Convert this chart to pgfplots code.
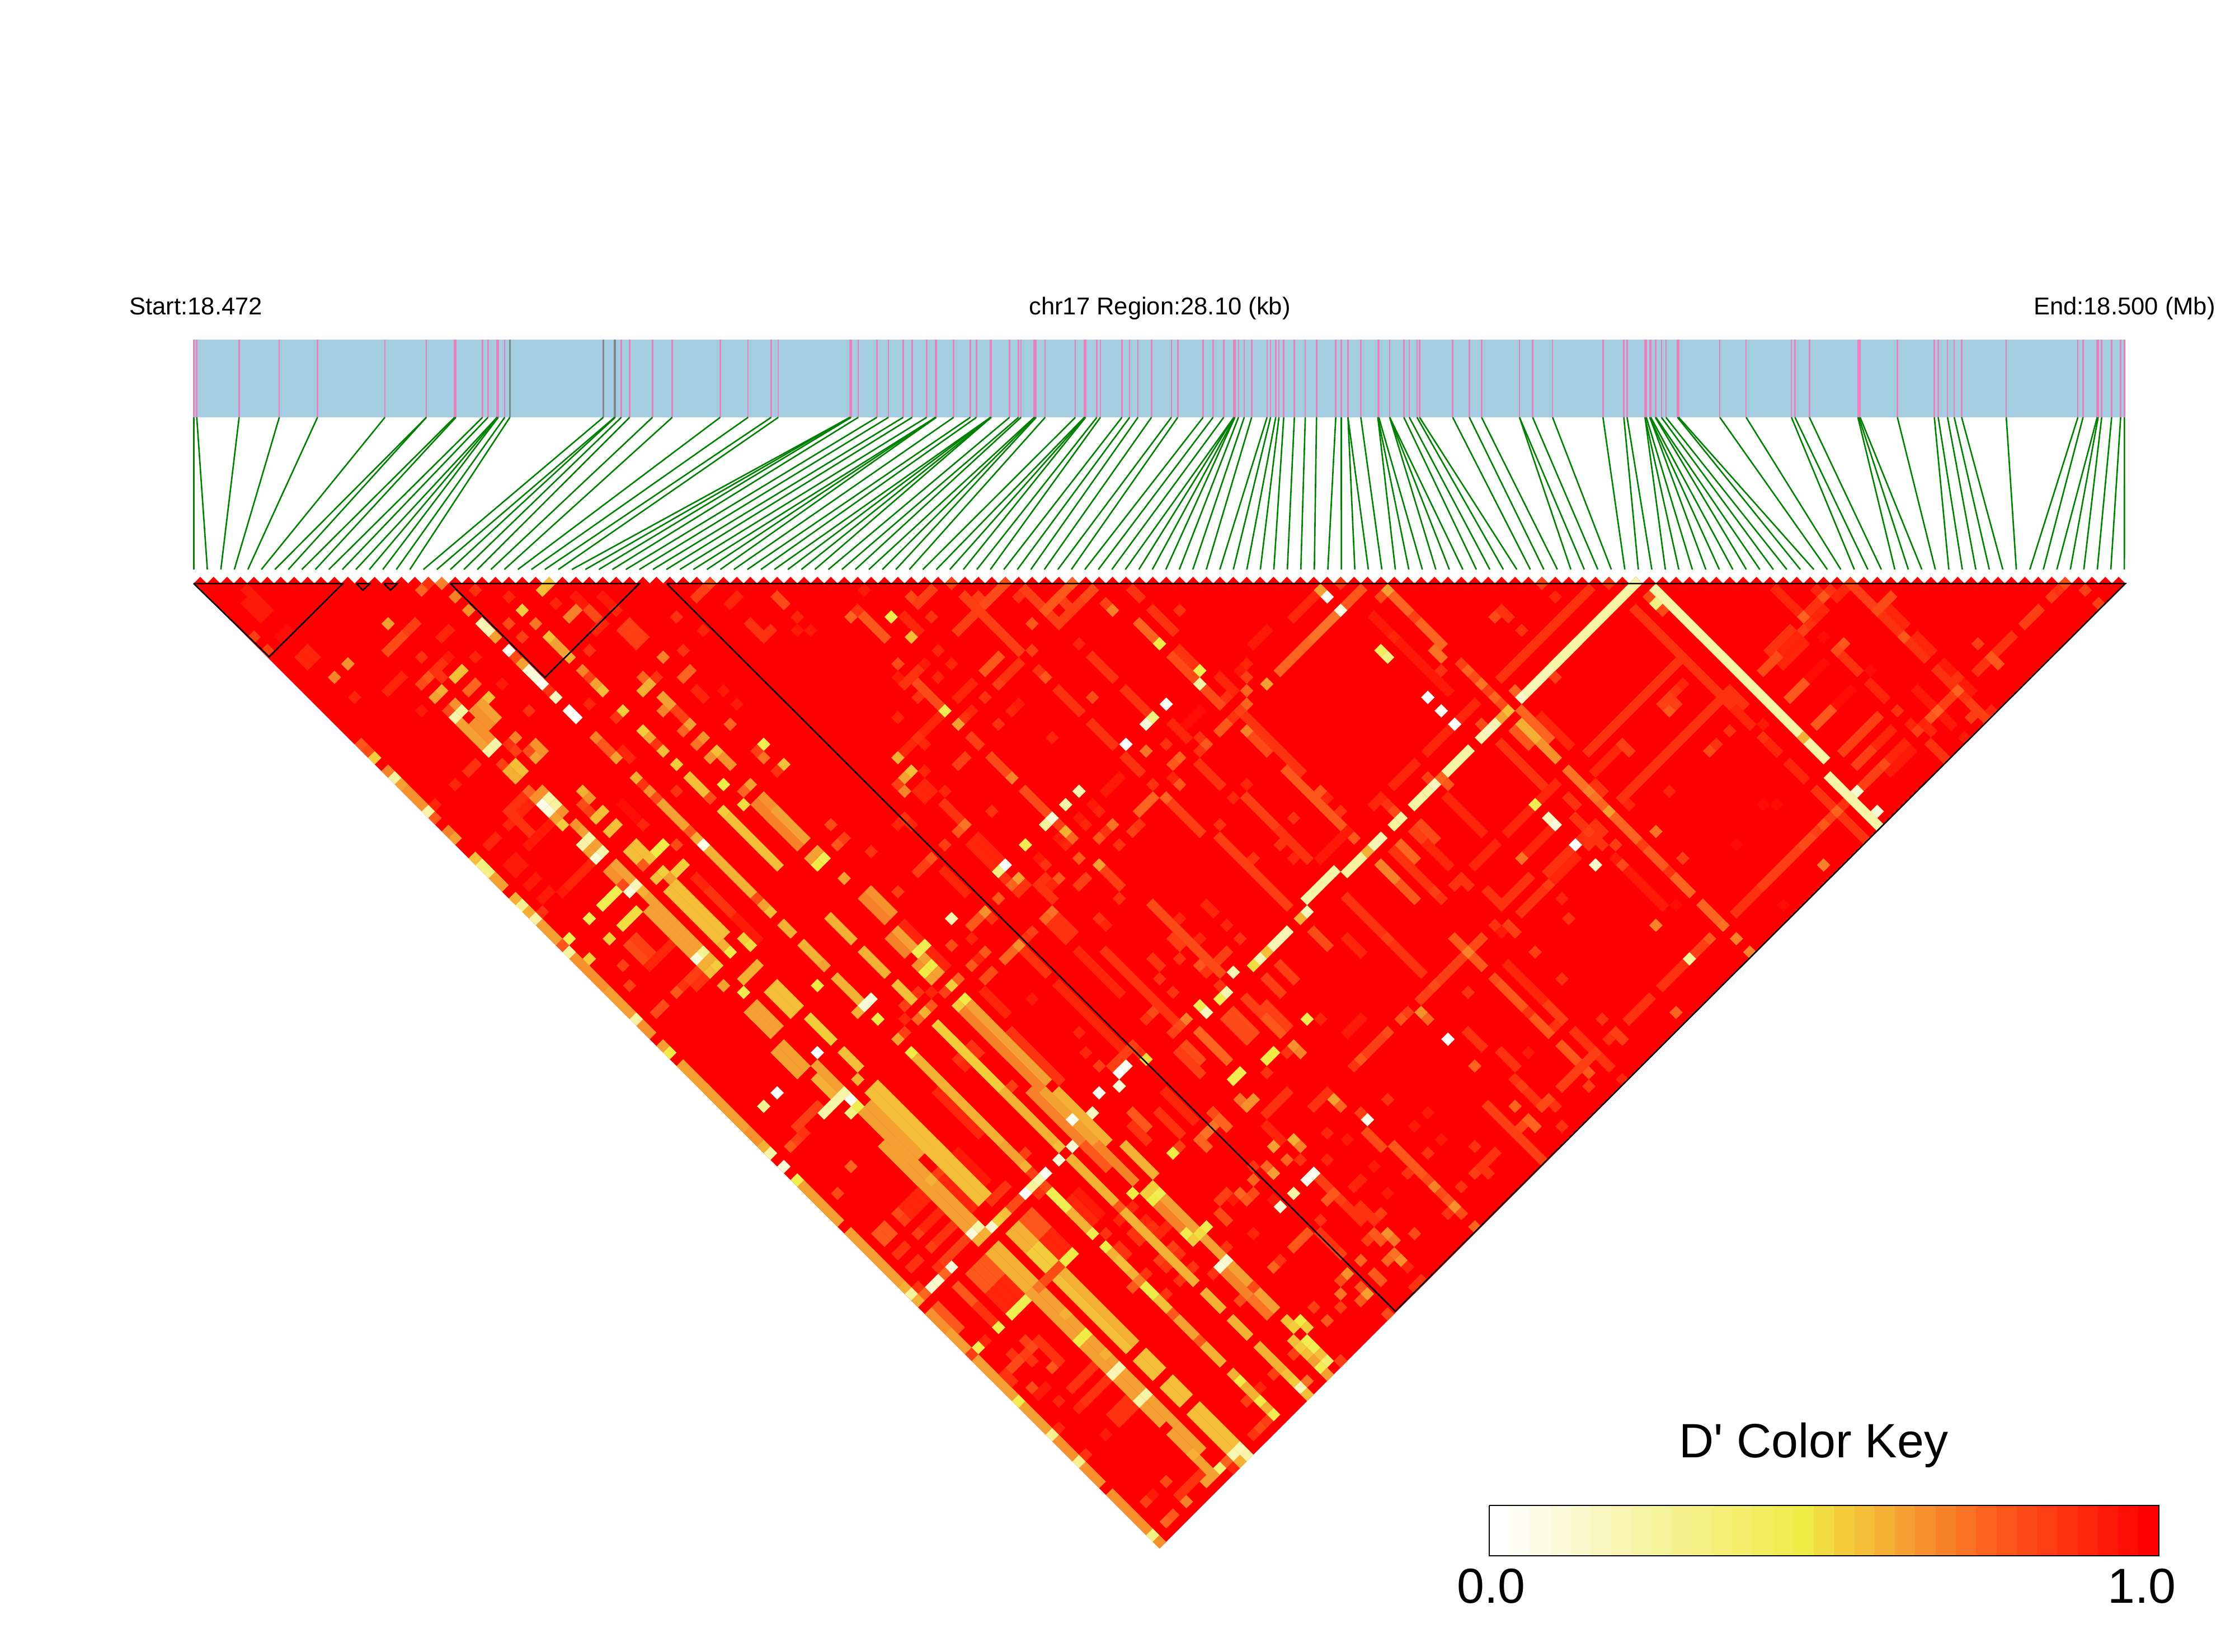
\documentclass[border=0pt]{standalone}
\usepackage{pgfplots}
\usepackage{pgfplotstable}
\usepackage{fontspec}
\setmainfont{Liberation Sans}
\pgfplotsset{compat=1.18}

\definecolor{snpblue}{RGB}{166,206,227}
\definecolor{snppink}{RGB}{231,130,190}
\definecolor{snpgray}{RGB}{125,135,140}
\definecolor{snpgreen}{RGB}{0,128,0}

% SNP: position on the bar (px), index along the triangle
\pgfplotstableread[row sep=\\]{
t i\\
346.5 0\\351.7 1\\427.4 2\\499.2 3\\567.5 4\\688 5\\762.1 6\\762.1 7\\812.6 8\\814.9 9\\862.6 10\\872.3 11\\888.4 12\\889.5 13\\890.7 14\\902.2 15\\911.4 16\\1078.4 17\\1098.5 18\\1099.7 19\\1110.6 20\\1125.5 21\\1166.3 22\\
1201.7 23\\1287.3 24\\1337.2 25\\1378.5 26\\1391.2 27\\1519.2 28\\1519.2 29\\1521.5 30\\1534.1 31\\1567.4 32\\1588.1 33\\1614.5 34\\1630.5 35\\1656.4 36\\1672.4 37\\1672.4 38\\1673.6 39\\1704.6 40\\1734.4 41\\1745.4 42\\1770.6 43\\1770.6 44\\1771.8 45\\1771.8 46\\1804.5 47\\1820.6 48\\1825.1 49\\1848.7 50\\1850.4 51\\1852.1 52\\1868.2 53\\1922.2 54\\1938.2 55\\1939.4 56\\1940.5 57\\1960.6 58\\1966.9 59\\2005.4 60\\2019.2 61\\2034.1 62\\2058.2 63\\2093.8 64\\
2105.2 65\\2150.5 66\\2168.3 67\\2187.3 68\\2205.6 69\\2205.6 70\\2207.3 71\\2207.3 72\\2213.7 73\\2224 74\\2237.2 75\\2264.8 76\\2271.1 77\\2280.3 78\\2286 79\\2294.6 80\\2313.6 81\\2333.1 82\\2353.2 83\\2387.6 84\\2397.4 85\\2409.4 86\\2409.4 87\\2432.4 88\\2462.8 89\\2462.8 90\\2464.5 91\\2484 92\\2484 93\\2484 94\\2509.3 95\\2519.1 96\\2532.8 97\\2537.4 98\\2596.6 99\\2626.4 100\\2648.2 101\\2716 102\\2716 103\\2739.5 104\\2775.1 105\\2865.2 106\\2902.5 107\\2908.3 108\\2940.4 109\\2940.4 110\\2942.7 111\\2949 112\\2949 113\\2950.7 114\\2958.8 115\\2959.9 116\\2969.7 117\\2977.7 118\\2998.4 119\\
3000.6 120\\3074.1 121\\3121.1 122\\3202.1 123\\3208.4 124\\3234.2 125\\3320.9 126\\3322.6 127\\3324.9 128\\3391.5 129\\3457.5 130\\3464.4 131\\3481.1 132\\3493.1 133\\3506.3 134\\3586.1 135\\3714.1 136\\3723.3 137\\3748.6 138\\3750.3 139\\3756.6 140\\3774.4 141\\3790.5 142\\3797.3 143\\
}\snps

% Cells are read crop by crop: x y of the cell centre in crop pixels, c = step on the 33-step key (32 = red)
% top-left area
\pgfplotstableread[row sep=\\]{
x1 y1 x2 y2 c\\
272 1269 314 1323 30\\251 1296 293 1350 30\\375 1405 355 1432 31\\440 1486 461 1512 29\\419 1512 440 1539 29\\776 1377 755 1405 27\\713 1459 692 1486 27\\880 1405 860 1432 29\\880 1513 860 1540 30\\1218 1457 1240 1485 20\\1260 1270 1290 1296 30\\1280 1323 1260 1350 22\\1323 1323 1345 1350 26\\1365 1270 1385 1296 30\\1340 1380 1320 1405 29\\1450 1377 1500 1430 27\\1405 1405 1440 1460 27\\
}\Abands
\pgfplotstableread[row sep=\\]{
x y c\\
817 1216 28\\859 1216 22\\1197 1216 18\\797 1240 24\\901 1270 22\\943 1323 21\\987 1377 6\\1007 1405 6\\1027 1432 20\\1068 1486 5\\1110 1540 20\\1132 1565 2\\965 1243 28\\1175 1243 18\\1070 1270 29\\1218 1296 29\\1112 1323 17\\1070 1377 26\\1155 1377 23\\1112 1431 27\\1197 1431 18\\1260 1513 19\\1408 1323 29\\250 1240 30\\272 1430 27\\314 1484 27\\566 1540 20\\692 1377 20\\734 1432 26\\797 1512 30\\960 1513 31\\922 1567 18\\
}\Asingles

% top-middle
\pgfplotstableread[row sep=\\]{
x1 y1 x2 y2 c\\
113 1243 92 1270 27\\340 1270 362 1296 26\\825 1243 783 1296 27\\215 1270 196 1296 29\\1085 1243 1205 1377 27\\930 1270 1100 1480 27\\1035 1243 995 1296 26\\1240 1243 1190 1323 25\\1330 1243 1310 1270 26\\1290 1296 1240 1360 27\\1420 1243 1440 1270 28\\1480 1320 1540 1400 28\\595 1350 650 1430 25\\740 1350 780 1400 29\\260 1377 290 1430 28\\950 1350 930 1377 27\\1440 1377 1500 1460 24\\
}\Bbands
\pgfplotstableread[row sep=\\]{
x y c\\
135 1216 26\\1057 1216 26\\1268 1216 24\\615 1243 30\\763 1270 26\\888 1225 27\\1098 1270 28\\975 1270 27\\1247 1296 27\\1372 1296 27\\1392 1323 22\\573 1350 24\\595 1323 28\\700 1350 14\\827 1350 28\\405 1350 29\\320 1405 28\\405 1405 30\\447 1405 30\\115 1405 29\\25 1350 28\\1140 1377 25\\910 1405 27\\763 1432 18\\
}\Bsingles

% top-right, above the first big crop
\pgfplotstableread[row sep=\\]{
x1 y1 x2 y2 c\\
415 1270 350 1350 29\\560 1243 520 1296 25\\475 1350 395 1456 23\\665 1270 705 1323 24\\750 1377 855 1456 24\\1000 1323 1025 1350 28\\1275 1243 1115 1456 28\\1425 1323 1525 1456 28\\1470 1270 1510 1323 26\\600 1350 660 1430 30\\300 1405 240 1456 30\\
}\Cbands
\pgfplotstableread[row sep=\\]{
x y c\\
1130 1216 27\\1170 1270 29\\435 1243 20\\457 1270 1\\498 1216 28\\497 1323 2\\645 1243 20\\625 1270 26\\727 1350 27\\35 1323 28\\980 1350 26\\1065 1405 28\\1340 1216 28\\700 1430 29\\
}\Csingles

% right-hand crop, up to the corner
\pgfplotstableread[row sep=\\]{
x1 y1 x2 y2 c\\
1183 120 1125 178 27\\1067 238 1010 296 28\\980 325 1010 353 25\\950 353 920 382 28\\775 353 893 470 30\\746 382 863 497 28\\892 528 950 585 27\\863 411 833 440 28\\805 497 775 527 27\\717 585 690 615 25\\660 470 805 615 30\\690 615 720 645 29\\717 705 775 760 28\\660 238 717 296 29\\630 267 688 325 28\\543 62 485 120 26\\375 10 485 90 27\\513 150 600 238 28\\543 120 600 178 29\\48 33 135 120 29\\250 62 194 120 28\\107 210 20 296 28\\135 238 50 325 29\\163 267 78 353 29\\48 325 0 382 26\\340 325 400 382 28\\455 440 515 498 29\\165 443 105 500 25\\250 353 194 411 31\\370 470 310 527 31\\280 558 222 615 25\\485 587 340 732 27\\543 645 485 702 29\\455 732 398 790 27\\600 702 515 790 29\\630 732 545 818 30\\515 790 455 850 26\\515 818 485 878 27\\20 700 48 732 29\\107 790 165 850 29\\222 908 280 965 28\\370 937 398 965 25\\340 1025 427 1110 28\\140 1165 0 1305 27\\194 1110 165 1140 26\\
}\Dbands
\pgfplotstableread[row sep=\\]{
x y c\\
1270 33 28\\1240 62 27\\1300 5 26\\1385 33 27\\1443 92 27\\920 267 27\\835 468 24\\920 587 27\\978 557 29\\630 615 29\\660 645 27\\745 557 24\\863 672 30\\600 238 25\\164 150 24\\250 62 25\\280 33 28\\222 33 29\\250 120 29\\222 150 29\\310 62 29\\340 33 29\\164 208 27\\194 178 28\\250 238 31\\310 296 26\\340 267 25\\455 382 31\\572 558 28\\310 878 27\\310 995 24\\340 965 28\\280 1025 27\\250 1052 25\\222 1082 27\\250 1227 22\\20 965 31\\77 1400 31\\
}\Dsingles

% long cream bands, in picture pixels
\pgfplotstableread[row sep=\\]{
x1 y1 x2 y2 c\\
2917 1043 2770 1190 7\\2950 1055 3250 1355 7\\3279 1385 3363 1469 7\\
}\Ebands
\pgfplotstableread[row sep=\\]{
x y c\\
2969 1073 10\\3218 1319 19\\3318 1415 4\\3350 1450 3\\
}\Esingles

% centre-right crop
\pgfplotstableread[row sep=\\]{
x1 y1 x2 y2 c\\
330 25 355 50 23\\800 0 632 167 6\\635 25 540 120 28\\190 0 350 165 30\\443 214 280 378 29\\420 380 350 450 7\\255 545 232 568 7\\233 425 160 497 29\\350 545 468 662 29\\115 545 90 568 29\\115 685 92 708 6\\45 757 0 805 8\\610 285 680 355 19\\640 240 730 330 24\\680 260 775 355 29\\585 308 632 355 25\\680 355 728 403 21\\540 355 680 497 28\\730 495 680 545 29\\632 592 563 662 29\\775 450 820 497 23\\940 615 1010 685 24\\1058 732 1105 780 25\\1155 830 1200 875 24\\1250 925 1295 972 24\\870 495 915 520 28\\1155 70 845 380 28\\1320 190 990 520 28\\1345 170 1013 545 28\\965 358 990 382 27\\965 380 895 450 29\\1155 25 1250 120 28\\1250 120 1345 214 28\\1367 167 1415 214 28\\1367 238 1415 285 29\\1460 332 1510 380 28\\1568 730 1370 930 28\\1248 1065 1225 1090 27\\1178 1137 1107 1205 28\\965 780 1110 925 30\\775 545 800 568 28\\705 660 615 757 29\\775 733 705 805 28\\800 757 730 830 29\\657 830 590 920 28\\680 880 612 945 28\\563 995 587 1018 27\\115 785 160 830 22\\185 855 232 900 25\\187 715 230 760 24\\160 735 300 875 28\\255 640 300 685 26\\230 660 280 710 27\\320 710 375 780 29\\515 710 445 780 29\\0 900 140 1040 28\\165 1065 260 1160 28\\140 1395 70 1465 27\\375 1040 398 1065 25\\445 1112 468 1135 25\\468 1040 422 1088 26\\420 1112 280 1255 27\\563 1230 610 1280 25\\660 1325 705 1375 25\\563 1135 680 1250 29\\705 1275 750 1325 27\\445 1375 490 1420 28\\750 1420 800 1470 25\\845 1460 760 1545 27\\1060 1255 1040 1280 28\\1015 1300 990 1325 28\\540 1445 585 1490 28\\50 1305 0 1355 30\\0 1040 45 1090 29\\
}\Fbands
\pgfplotstableread[row sep=\\]{
x y c\\
115 25 13\\137 48 10\\395 70 27\\420 95 24\\443 120 26\\467 143 23\\490 167 27\\514 190 24\\538 214 26\\562 237 18\\538 261 20\\515 285 6\\490 308 5\\467 332 6\\585 167 24\\610 190 4\\730 120 27\\325 95 28\\280 190 0\\327 238 1\\374 285 0\\467 285 26\\325 473 24\\350 497 25\\302 497 5\\278 520 7\\280 473 27\\140 568 28\\160 590 26\\185 612 7\\160 638 8\\68 732 19\\657 568 14\\705 615 5\\728 638 3\\845 520 22\\870 545 23\\893 568 24\\916 590 20\\1035 708 27\\1130 805 28\\990 568 29\\1130 190 27\\1110 214 27\\1130 238 25\\1155 214 27\\1178 167 28\\1205 143 29\\1340 308 28\\1295 355 28\\1272 380 26\\1460 285 30\\1130 520 29\\1083 663 23\\1178 757 27\\1367 710 31\\1500 568 31\\1545 430 28\\1320 995 23\\1368 1045 22\\1415 1090 22\\1270 1040 25\\1202 1112 8\\1155 925 31\\1083 993 22\\940 710 27\\965 780 26\\940 757 30\\870 780 4\\800 710 0\\845 660 27\\870 685 28\\823 685 28\\845 710 28\\893 710 28\\870 638 28\\893 660 28\\823 638 28\\800 615 28\\610 757 23\\705 850 27\\750 900 29\\775 970 28\\515 995 28\\538 1018 30\\657 1088 27\\750 1183 28\\375 850 28\\397 830 28\\420 850 28\\492 873 28\\515 897 28\\305 875 27\\328 897 28\\140 1040 27\\258 1303 21\\280 1325 24\\210 1303 27\\185 1325 25\\165 1373 26\\45 1465 25\\20 1490 28\\350 1395 0\\420 1230 28\\445 1490 24\\422 1088 22\\300 1205 26\\515 1183 26\\540 1205 25\\635 1300 28\\730 1350 28\\800 1373 28\\820 1395 28\\845 1420 28\\870 1443 27\\893 1465 28\\918 1490 28\\850 1510 25\\870 1540 27\\940 1373 27\\918 1395 28\\965 1395 27\\1155 1300 24\\895 1325 28\\635 1443 30\\635 1540 27\\965 1537 29\\
}\Fsingles

% centre crop
\pgfplotstableread[row sep=\\]{
x1 y1 x2 y2 c\\
97 143 170 215 26\\262 143 240 190 29\\382 48 335 95 25\\453 72 382 143 28\\430 0 500 25 27\\712 48 782 118 28\\595 167 665 238 28\\830 167 925 260 28\\170 260 50 378 29\\288 332 312 355 27\\262 402 240 425 27\\358 402 405 450 26\\478 520 550 590 26\\120 497 145 520 29\\97 520 122 545 29\\950 48 1020 118 26\\1068 167 1115 214 26\\1020 25 1090 95 28\\1115 120 1160 167 29\\1420 0 1330 95 24\\950 285 995 330 29\\830 403 880 450 28\\712 285 782 355 28\\1140 285 1115 308 25\\1045 238 1000 285 31\\1232 332 1280 380 26\\1255 262 1440 450 28\\1350 450 1568 680 25\\1090 427 1160 497 28\\995 568 1090 660 27\\1115 685 1350 925 27\\1210 545 1330 660 27\\1350 685 1420 757 28\\1568 665 1470 757 30\\880 545 830 590 24\\170 568 240 638 28\\192 568 262 615 28\\312 685 382 757 29\\288 708 358 780 29\\760 805 808 855 27\\690 827 665 850 27\\525 850 570 900 28\\122 780 97 805 27\\192 805 262 875 29\\310 970 288 995 25\\595 970 642 1015 28\\570 995 620 1040 28\\430 1090 405 1112 24\\478 1090 550 1160 28\\880 925 1115 1160 26\\950 1040 975 1065 27\\1068 925 1092 945 29\\1140 1090 1115 1112 27\\880 1112 902 1135 28\\665 1090 808 1230 29\\715 1090 970 1325 28\\595 1210 830 1440 29\\1560 810 1470 900 7\\1350 1018 1305 1065 6\\1445 1015 1490 1065 26\\1330 1140 1375 1180 27\\1280 1183 1328 1230 27\\1140 1325 1210 1395 26\\1162 1303 1232 1373 26\\1210 1255 1280 1325 27\\1305 1325 1350 1375 25\\1305 1278 1375 1350 27\\1090 1373 1160 1443 24\\1068 1395 1135 1465 24\\1043 1420 1090 1470 26\\1020 1445 1090 1510 27\\0 1000 50 1068 20\\0 1040 50 1090 22\\50 990 190 1130 29\\27 1205 73 1255 18\\285 1278 335 1325 20\\262 1302 545 1550 22\\285 1278 570 1540 20\\310 1230 360 1300 29\\170 1350 400 1568 17\\97 1468 190 1560 19\\430 1373 600 1540 28\\1222 1515 1205 1540 14\\830 1400 735 1470 27\\805 475 760 520 30\\
}\Gbands
\pgfplotstableread[row sep=\\]{
x y c\\
168 25 29\\27 72 26\\120 72 30\\97 95 28\\215 72 29\\27 118 30\\50 143 28\\73 118 28\\168 118 29\\192 238 14\\97 190 28\\335 190 28\\382 143 27\\475 25 27\\525 95 28\\547 118 25\\665 0 29\\712 190 26\\262 260 28\\240 285 20\\288 238 29\\430 238 29\\453 214 30\\27 262 29\\382 285 28\\570 332 29\\97 332 28\\120 355 29\\27 402 19\\430 473 22\\50 473 20\\73 450 18\\120 450 29\\27 497 27\\190 520 29\\10 520 22\\948 0 15\\1045 143 7\\1090 95 14\\1140 190 28\\1210 72 29\\1185 95 30\\1255 120 27\\1280 143 20\\1255 167 24\\973 214 0\\925 260 10\\902 285 3\\830 355 0\\902 380 23\\973 355 28\\1210 214 24\\1185 238 27\\1162 262 28\\1090 332 28\\1068 355 25\\1045 380 28\\1020 403 24\\995 427 25\\1210 308 22\\1328 380 28\\1255 497 29\\1162 545 29\\1020 497 25\\950 473 29\\925 497 28\\972 545 24\\1115 635 28\\1232 757 28\\1328 660 28\\1328 708 28\\1375 615 28\\1375 757 29\\1468 520 25\\1495 545 29\\1540 590 28\\665 520 6\\618 568 7\\570 615 3\\547 638 8\\595 638 27\\618 660 19\\642 685 24\\618 710 29\\595 685 30\\690 638 29\\665 615 30\\712 568 30\\735 590 29\\782 638 23\\760 660 28\\735 685 25\\878 638 28\\855 660 27\\808 710 28\\478 710 14\\406 780 0\\382 805 10\\453 827 20\\430 850 24\\405 825 28\\453 875 28\\478 850 28\\192 710 27\\240 660 25\\262 638 23\\358 592 28\\50 615 28\\75 638 29\\27 638 29\\548 780 28\\525 757 30\\665 757 25\\595 827 25\\735 780 20\\548 827 28\\570 850 29\\808 900 28\\380 900 25\\27 875 27\\145 757 25\\215 970 6\\335 945 21\\358 970 28\\288 1040 29\\570 945 23\\547 968 24\\735 970 28\\760 995 29\\500 1015 27\\477 1040 28\\453 1065 21\\215 1065 26\\335 1088 25\\312 1112 29\\288 1135 25\\360 1160 26\\335 1183 26\\1020 970 29\\1140 995 29\\1090 1040 29\\1185 1040 28\\1020 1112 28\\1090 1135 25\\1068 1160 28\\948 1183 28\\995 1230 28\\500 1250 30\\1420 945 5\\1398 970 19\\1280 1090 18\\1258 1112 6\\1232 1137 16\\1208 1160 6\\1138 1230 6\\1115 1255 14\\1090 1278 14\\1068 1302 5\\1043 1325 22\\1020 1350 26\\995 1373 27\\1160 1205 28\\1420 1325 14\\1468 1325 29\\1375 1420 21\\1398 1443 22\\1350 1443 28\\1305 1443 15\\1280 1465 15\\900 1465 16\\878 1440 28\\830 1490 1\\808 1515 0\\808 1560 3\\1280 1510 28\\925 1300 26\\900 1325 28\\120 1068 14\\97 1090 14\\120 1112 20\\97 1135 21\\143 1135 15\\120 1160 15\\167 1160 20\\145 1183 20\\240 1183 24\\215 1205 17\\192 1230 27\\145 1230 29\\97 1230 28\\50 1278 27\\145 1278 25\\122 1302 19\\97 1325 24\\10 1325 29\\262 1255 15\\240 1278 17\\73 1443 15\\50 1373 27\\27 1395 20\\288 1420 28\\312 1443 28\\240 1468 28\\265 1490 29\\430 1560 27\\640 1373 29\\690 1443 29\\735 1490 27\\
}\Gsingles

% lower-right of the centre
\pgfplotstableread[row sep=\\]{
x1 y1 x2 y2 c\\
870 640 920 690 26\\965 710 1035 780 25\\1300 550 1470 735 27\\1300 715 1255 760 28\\1400 450 1470 520 28\\705 790 800 885 27\\780 905 850 950 28\\825 905 875 950 28\\495 620 590 670 29\\590 490 520 550 28\\710 500 665 540 28\\355 590 380 615 24\\660 985 605 1040 25\\710 1000 750 1070 28\\900 1125 920 1150 25\\70 560 115 605 25\\50 625 120 680 28\\140 570 215 630 28\\170 500 260 590 29\\545 1425 590 1470 18\\
}\Hbands
\pgfplotstableread[row sep=\\]{
x y c\\
850 600 2\\825 575 27\\945 690 25\\990 790 28\\1063 805 26\\1087 830 22\\1110 855 26\\1135 880 25\\1158 905 21\\1183 930 26\\1135 925 28\\1040 980 26\\1228 975 24\\1180 835 28\\1062 715 28\\1110 670 30\\1015 625 30\\1062 575 30\\922 530 28\\1228 690 28\\1370 550 24\\1420 600 24\\1445 625 24\\1395 625 26\\1228 790 27\\1275 780 28\\1490 520 26\\1515 545 28\\1470 545 26\\1540 480 27\\1560 625 28\\790 660 30\\710 648 29\\900 755 30\\920 860 30\\850 805 29\\825 830 29\\680 770 1\\655 795 1\\655 740 28\\730 720 29\\750 880 25\\775 858 25\\897 930 27\\590 670 19\\565 695 20\\615 695 22\\590 720 24\\735 520 28\\760 510 20\\780 533 24\\615 838 7\\567 885 3\\690 950 28\\850 1075 24\\780 1050 27\\570 1075 28\\920 1000 21\\897 1025 25\\945 1025 23\\970 1050 23\\945 1075 24\\970 1095 24\\990 1075 21\\1015 1100 29\\875 1000 25\\850 1025 27\\1040 1170 28\\1063 1145 28\\800 1122 21\\775 1145 26\\850 1170 25\\875 1190 20\\825 1215 25\\800 1190 23\\780 1240 27\\850 1215 25\\945 1265 26\\685 1240 27\\745 1300 25\\310 575 15\\330 570 26\\310 615 23\\330 640 20\\285 640 23\\305 665 24\\285 690 24\\260 665 24\\235 690 27\\405 530 21\\430 510 23\\450 530 21\\430 555 21\\660 1495 23\\590 1420 27\\635 1520 6\\660 1545 18\\615 1495 17\\570 1305 22\\590 1285 18\\615 1305 15\\590 1330 17\\640 1330 17\\615 1355 18\\665 1355 14\\690 1380 14\\640 1378 17\\665 1402 18\\710 1402 18\\735 1425 12\\710 1450 14\\760 1445 19\\735 1475 20\\690 1425 20\\780 1425 27\\
}\Hsingles

% bottom crop, upper part only
\pgfplotstableread[row sep=\\]{
x1 y1 x2 y2 c\\
350 50 385 95 19\\415 95 370 150 7\\495 62 644 261 18\\479 83 612 261 18\\455 125 557 261 20\\439 146 525 261 20\\30 10 85 85 20\\110 110 170 195 20\\305 380 385 485 20\\355 130 310 190 27\\653 87 784 261 19\\780 87 895 244 19\\870 87 1005 261 20\\840 87 975 261 22\\905 87 1030 240 19\\620 100 720 230 29\\
}\Ibands
\pgfplotstableread[row sep=\\]{
x y c\\
257 102 0\\225 145 9\\445 145 14\\430 165 10\\405 115 1\\190 215 21\\205 235 21\\222 257 19\\240 290 7\\257 315 3\\288 355 14\\300 240 27\\275 260 25\\320 210 28\\935 250 3\\950 185 1\\997 165 5\\1013 100 1\\
}\Isingles

% left crop
\pgfplotstableread[row sep=\\]{
x1 y1 x2 y2 c\\
172 0 150 25 26\\300 72 265 118 28\\360 95 340 118 18\\175 118 150 165 29\\388 142 372 165 24\\530 540 495 590 28\\570 545 495 640 29\\610 640 550 710 30\\455 680 435 710 29\\575 820 555 850 30\\605 880 590 900 30\\820 570 875 640 31\\720 780 640 880 29\\1000 830 1060 890 29\\1040 880 1100 960 28\\1130 960 1185 1020 30\\810 1050 850 1100 26\\830 1040 870 1085 27\\920 1060 880 1120 29\\1060 1130 1000 1190 28\\1000 1160 940 1230 27\\420 215 490 260 20\\400 235 470 285 21\\365 285 440 380 20\\395 285 440 350 21\\570 355 590 380 21\\550 380 570 400 20\\400 425 380 450 28\\210 520 245 570 21\\420 780 440 825 10\\455 825 475 850 20\\590 990 625 1040 20\\680 1110 750 1210 21\\770 1230 830 1300 20\\870 1350 890 1375 21\\985 1490 1040 1560 20\\720 118 740 143 27\\925 190 945 215 20\\985 95 975 120 24\\950 238 1000 260 27\\760 355 780 380 25\\815 380 835 403 29\\1097 403 1115 428 21\\928 570 985 640 20\\1060 735 1180 880 19\\1005 475 1060 545 18\\1120 620 1260 785 18\\1210 550 1250 610 21\\1190 570 1230 620 22\\1250 595 1340 690 20\\1225 620 1315 720 22\\775 780 815 830 20\\750 800 790 850 21\\830 710 880 760 18\\810 735 860 785 18\\795 870 760 920 14\\965 850 1080 1010 18\\945 875 1060 1030 18\\890 905 1040 1075 20\\870 930 1020 1095 20\\850 945 815 990 16\\1240 1190 1300 1260 18\\1220 1215 1280 1280 18\\1195 1280 1230 1340 20\\1175 1300 1210 1360 20\\1260 990 1290 1015 19\\1320 1060 1370 1125 19\\1400 965 1460 1040 19\\1490 1085 1555 1165 19\\1420 1180 1500 1280 19\\1345 1305 1395 1360 17\\1325 1325 1375 1385 17\\1260 1400 1320 1480 20\\1240 1425 1300 1500 20\\1340 1480 1400 1560 20\\1430 1430 1460 1480 18\\1480 890 1530 960 22\\1500 870 1550 940 21\\500 580 530 640 28\\
}\Jbands
\pgfplotstableread[row sep=\\]{
x y c\\
38 72 21\\0 118 22\\247 48 28\\395 48 29\\290 120 28\\270 118 25\\250 142 26\\300 165 19\\285 190 20\\455 140 30\\430 190 18\\58 190 29\\340 215 21\\320 240 26\\355 237 8\\345 262 7\\455 355 7\\435 380 7\\520 320 20\\510 340 22\\470 355 28\\500 380 27\\540 380 26\\510 428 18\\490 450 19\\530 450 18\\510 475 19\\470 428 27\\245 240 30\\540 240 28\\340 497 29\\78 350 25\\97 372 26\\115 400 17\\150 450 22\\170 475 8\\190 497 20\\265 590 7\\285 568 29\\285 615 25\\322 660 22\\342 685 20\\400 755 18\\510 897 19\\530 920 9\\550 945 19\\570 968 7\\665 1040 14\\660 1090 8\\645 1065 25\\720 1110 17\\778 1040 17\\720 967 14\\850 1325 7\\930 1420 20\\948 1443 15\\490 25 1\\515 48 26\\533 72 20\\550 95 3\\570 118 3\\590 143 1\\607 165 28\\625 190 5\\665 238 1\\682 262 0\\700 95 22\\735 140 20\\755 165 18\\718 25 28\\720 212 29\\928 48 22\\985 25 28\\870 118 24\\888 143 19\\870 165 19\\905 118 28\\925 238 22\\815 237 17\\795 260 28\\1020 162 29\\1040 190 29\\1097 165 30\\1135 212 30\\1003 285 20\\985 310 24\\1115 285 24\\870 310 17\\890 332 20\\905 355 28\\928 380 18\\738 332 22\\795 403 20\\965 427 17\\1040 332 21\\1020 355 23\\1060 380 18\\1060 403 21\\1097 497 15\\1210 357 14\\1210 403 23\\1190 380 27\\1268 428 18\\1250 450 28\\850 470 19\\870 497 28\\890 520 21\\910 545 26\\1000 660 25\\1020 685 19\\1040 708 2\\1197 900 26\\1213 920 20\\1232 945 18\\965 520 28\\1060 545 26\\1175 495 20\\1155 520 24\\1155 568 16\\1100 595 17\\1360 735 20\\1380 757 14\\1360 780 15\\1340 757 20\\1400 640 26\\1420 710 25\\1440 685 27\\1515 735 28\\550 520 24\\590 520 21\\605 545 7\\625 570 8\\590 570 2\\605 595 3\\570 545 21\\625 615 20\\650 640 17\\640 590 21\\680 565 26\\700 540 18\\680 520 19\\715 545 21\\700 590 27\\760 590 18\\740 615 18\\795 640 18\\775 660 18\\680 640 21\\700 660 20\\715 685 7\\700 708 7\\735 710 20\\720 735 20\\757 735 7\\738 757 3\\925 710 15\\905 735 15\\965 710 26\\870 780 25\\985 780 17\\960 805 17\\925 805 17\\905 830 18\\945 830 20\\855 850 6\\835 875 3\\815 850 26\\880 880 19\\1040 1090 9\\1020 1110 3\\1060 1115 19\\1040 1135 19\\1080 1135 17\\1060 1160 18\\1125 1040 17\\1105 1065 19\\1145 1065 16\\1120 1085 15\\775 1040 17\\1175 1130 19\\1155 1155 19\\1130 1180 19\\1105 1205 20\\1130 1225 14\\1360 1205 15\\1515 1250 3\\1495 1275 3\\1475 1300 19\\1530 1325 15\\1385 1135 20\\1360 1440 0\\1430 1565 7\\1480 1520 19\\1418 825 20\\512 757 30\\495 780 30\\530 780 30\\512 805 30\\645 875 30\\590 950 28\\870 640 29\\960 1200 28\\905 1300 26\\930 1280 26\\965 1230 25\\800 1125 27\\840 1190 27\\
}\Jsingles

% apex crop
\pgfplotstableread[row sep=\\]{
x1 y1 x2 y2 c\\
361 0 541 180 18\\313 0 517 203 18\\217 0 471 254 20\\169 0 445 276 20\\444 12 540 108 30\\275 156 299 180 29\\251 180 275 204 29\\227 204 251 228 29\\372 228 300 300 29\\420 276 348 348 28\\468 324 396 396 27\\228 348 204 372 28\\276 396 252 420 28\\36 299 204 467 20\\324 587 372 636 21\\396 660 444 708 20\\492 756 612 876 20\\660 924 730 996 20\\780 1044 828 1092 21\\876 1140 924 1188 21\\972 1236 1092 1356 21\\348 564 420 636 25\\420 492 468 540 25\\492 564 540 612 28\\708 684 756 636 28\\732 708 780 660 28\\1308 1164 1236 1236 28\\1020 912 996 936 28\\1068 912 996 984 28\\900 780 830 852 28\\950 828 880 900 28\\1048 928 1000 976 28\\1024 904 976 952 28\\517 396 565 444 25\\493 420 541 468 25\\469 444 517 492 25\\590 468 638 516 29\\566 492 614 540 29\\542 516 590 564 29\\565 349 685 469 19\\541 373 661 493 19\\638 276 686 324 19\\614 300 662 348 19\\710 348 758 396 17\\686 372 734 420 17\\686 228 734 276 25\\662 252 710 300 25\\757 300 805 348 29\\733 324 781 372 29\\782 420 733 468 26\\710 492 686 516 23\\660 540 612 588 14\\805 444 1048 684 19\\781 468 1020 708 18\\733 516 985 768 20\\685 516 953 784 20\\1095 734 1143 782 18\\1071 758 1119 806 18\\1192 829 1240 877 18\\1168 853 1216 901 18\\1024 807 1072 855 20\\976 807 1048 879 20\\1120 904 1192 976 20\\1096 928 1144 976 20\\1290 929 1456 1095 18\\1266 953 1432 1119 18\\1215 999 1288 1072 20\\1192 1023 1310 1140 20\\841 48 985 192 19\\1033 240 1273 480 19\\1313 520 1360 570 19\\1408 616 1456 664 19\\1505 712 1568 775 19\\760 156 830 230 14\\830 230 880 280 19\\1000 396 1024 420 18\\1096 492 1120 516 15\\1144 540 1168 564 18\\1216 612 1264 660 20\\1312 708 1360 756 19\\1456 852 1480 876 19\\900 0 960 60 25\\940 0 1070 110 22\\1020 0 1090 90 19\\1170 180 1290 300 20\\1140 200 1260 320 22\\1336 336 1384 384 20\\1408 420 1500 500 20\\1384 444 1480 540 22\\1500 510 1568 570 20\\1480 540 1530 590 23\\855 180 925 250 29\\880 156 950 228 30\\1360 228 1384 252 26\\590 0 660 60 20\\612 132 564 180 28\\636 180 588 228 26\\
}\Kbands
\pgfplotstableread[row sep=\\]{
x y c\\
325 108 19\\469 300 3\\493 276 7\\517 300 19\\493 324 19\\541 276 4\\565 251 17\\589 227 18\\60 82 24\\10 155 26\\205 228 26\\228 252 27\\155 276 25\\132 300 25\\180 300 25\\155 324 25\\277 300 27\\325 348 27\\350 420 28\\396 420 3\\372 444 24\\348 468 4\\324 492 4\\276 492 28\\300 516 24\\252 516 8\\228 492 19\\276 540 19\\468 732 27\\636 900 14\\756 1020 9\\852 1116 9\\1116 1380 10\\1140 1404 21\\564 636 14\\492 708 14\\540 684 29\\612 732 28\\636 756 26\\612 780 26\\660 732 27\\684 756 28\\660 684 27\\684 708 26\\760 780 25\\590 804 28\\612 828 28\\708 852 30\\684 852 26\\732 852 30\\708 876 30\\780 900 29\\852 924 29\\950 1020 30\\780 996 29\\876 1092 28\\1166 1188 26\\1092 1260 27\\1116 1236 30\\1240 1260 22\\1192 1308 25\\1168 1332 24\\830 372 15\\806 396 15\\880 660 15\\856 684 15\\805 588 19\\950 732 19\\1000 780 6\\976 804 6\\1095 880 7\\1072 904 7\\1265 1095 19\\1420 1068 6\\1396 1092 6\\1444 1092 7\\1420 1116 7\\1335 1164 10\\1360 1140 11\\1360 1164 20\\1336 1188 20\\1384 1116 24\\1408 1140 29\\1456 1116 19\\1009 216 25\\904 300 14\\952 348 15\\976 372 19\\1048 444 19\\1072 468 22\\1192 588 25\\1288 684 25\\1432 828 15\\1408 804 19\\1504 900 15\\1528 924 19\\1552 948 14\\780 36 3\\805 10 18\\735 84 1\\711 108 6\\687 132 8\\660 156 0\\735 132 26\\711 156 28\\1048 156 15\\1192 12 15\\1120 132 17\\1096 156 17\\1144 156 14\\1120 180 15\\1290 288 14\\1264 312 14\\1312 312 16\\1288 336 17\\1384 396 4\\1360 420 3\\1460 504 26\\950 300 28\\996 348 28\\1020 372 28\\1000 252 29\\1070 204 29\\1048 300 28\\1072 324 28\\1096 252 29\\1120 276 28\\1144 300 29\\1168 276 29\\1192 348 27\\1216 372 28\\1144 396 27\\1168 420 28\\1120 444 29\\1216 468 28\\1264 420 28\\1096 444 28\\1048 492 25\\1168 516 28\\1384 348 28\\1336 444 28\\1428 540 26\\1480 300 29\\1360 180 27\\1384 156 27\\1408 180 30\\1432 156 24\\1460 180 25\\1480 156 26\\1550 180 30\\1480 108 25\\1500 130 24\\1530 60 24\\1550 84 20\\1480 60 28\\1550 420 24\\1505 996 26\\1480 1020 28\\1528 972 27\\1504 852 29\\1456 900 27\\1550 804 27\\710 156 28\\396 132 29\\420 156 29\\444 180 29\\468 204 29\\348 84 27\\372 108 29\\660 60 19\\685 84 27\\660 12 27\\490 204 29\\
}\Ksingles

% key: step number, top of the box
\pgfplotstableread[row sep=\\]{
k y\\0 2691\\1 2691\\2 2691\\3 2691\\4 2691\\5 2691\\6 2691\\7 2691\\8 2691\\9 2691\\10 2691\\11 2691\\12 2691\\13 2691\\14 2691\\15 2691\\16 2691\\17 2691\\18 2691\\19 2691\\20 2691\\21 2691\\22 2691\\23 2691\\24 2691\\25 2691\\26 2691\\27 2691\\28 2691\\29 2691\\30 2691\\31 2691\\32 2691\\
}\keysteps

\newlength{\cellw}\setlength{\cellw}{1.695mm}
% table, crop x, crop y, crop x scale, crop y scale; cell centres snap to the triangle's lattice
\newcommand{\bandsfrom}[5]{%
  \addplot[forget plot, line width=\cellw, point meta=\thisrow{c},
    quiver={u={(\thisrow{x2}<\thisrow{x1}?-1:1)*11.99*(round(abs(\thisrow{y2}-\thisrow{y1})/#5/11.98)+1)},
            v={11.98*(round(abs(\thisrow{y2}-\thisrow{y1})/#5/11.98)+1)}, colored=mapped color}]
    table[x expr={snapx(#2+\thisrow{x1}/#4,#3+\thisrow{y1}/#5)-(\thisrow{x2}<\thisrow{x1}?-6:6)},
          y expr={snapy(#3+\thisrow{y1}/#5)-6}] {#1};}
\newcommand{\singlesfrom}[5]{%
  \addplot[forget plot, line width=\cellw, point meta=\thisrow{c},
    quiver={u=12, v=12, colored=mapped color}]
    table[x expr={snapx(#2+\thisrow{x}/#4,#3+\thisrow{y}/#5)-6},
          y expr={snapy(#3+\thisrow{y}/#5)-6}] {#1};}

\begin{document}
\begin{tikzpicture}[declare function={
    snapy(\y)=1043+11.98*round((\y-1043)/11.98);
    snapx(\x,\y)=358+11.99*round((\y-1043)/11.98)+23.98*round((\x-358-11.99*round((\y-1043)/11.98))/23.98);
  }]
\path[use as bounding box] (0,0) rectangle (399.5mm,295.3mm);
\begin{axis}[
    at={(0,0)}, anchor=south west,
    width=399.5mm, height=295.3mm, scale only axis,
    xmin=0, xmax=3995, ymin=0, ymax=2953, y dir=reverse,
    hide axis, clip=false,
    point meta min=0, point meta max=32,
    colormap={ld}{rgb255(0cm)=(255,255,255) rgb255(6cm)=(248,245,180) rgb255(15cm)=(240,235,70)
      rgb255(17cm)=(243,205,60) rgb255(20cm)=(245,160,50) rgb255(24cm)=(252,100,32)
      rgb255(28cm)=(255,50,15) rgb255(32cm)=(255,0,0)},
]
% gene bar
\addplot[fill=snpblue, draw=none, forget plot] coordinates {(346,607) (3799,607) (3799,746) (346,746)};
\addplot[forget plot, snppink, line width=0.25mm, quiver={u=0, v=-139}] table[x=t, y expr=746] {\snps};
\addplot[forget plot, snpgray, line width=0.25mm, quiver={u=0, v=-139}] coordinates {(911.4,746) (1078.4,746) (1098.5,746) (1099.7,746)};
\addplot[forget plot, snpgreen, line width=0.26mm, quiver={u={346.5+24.13*\thisrow{i}-\thisrow{t}}, v=272}] table[x=t, y expr=746] {\snps};

% triangle
\addplot[fill=red, draw=none, forget plot] coordinates {(346,1043) (3799,1043) (2072.5,2768)};
\addplot[forget plot, red, line width=\cellw, quiver={u=12, v=12}] table[x expr={352+23.98*\thisrow{i}}, y expr=1037] {\snps};

\bandsfrom{\Abands}{300}{500}{1.742}{2.24}
\singlesfrom{\Asingles}{300}{500}{1.742}{2.24}
\bandsfrom{\Bbands}{1200}{500}{1.742}{2.24}
\singlesfrom{\Bsingles}{1200}{500}{1.742}{2.24}
\bandsfrom{\Cbands}{2100}{500}{1.742}{2.24}
\singlesfrom{\Csingles}{2100}{500}{1.742}{2.24}
\bandsfrom{\Ibands}{1200}{1900}{1.3067}{1.742}
\singlesfrom{\Isingles}{1200}{1900}{1.3067}{1.742}
\bandsfrom{\Jbands}{600}{1150}{1.568}{1.96}
\singlesfrom{\Jsingles}{600}{1150}{1.568}{1.96}
\bandsfrom{\Gbands}{1600}{1150}{1.96}{1.96}
\singlesfrom{\Gsingles}{1600}{1150}{1.96}{1.96}
\bandsfrom{\Hbands}{2000}{1700}{1.96}{1.96}
\singlesfrom{\Hsingles}{2000}{1700}{1.96}{1.96}
\bandsfrom{\Fbands}{2400}{1150}{1.96}{1.96}
\singlesfrom{\Fsingles}{2400}{1150}{1.96}{1.96}
\bandsfrom{\Kbands}{1500}{2050}{2}{2}
\singlesfrom{\Ksingles}{1500}{2050}{2}{2}
\bandsfrom{\Dbands}{3150}{1040}{2.412}{2.412}
\singlesfrom{\Dsingles}{3150}{1040}{2.412}{2.412}
\bandsfrom{\Ebands}{0}{0}{1}{1}
\singlesfrom{\Esingles}{0}{0}{1}{1}

% LD blocks
\addplot[forget plot, black, line width=0.25mm] coordinates {(346,1043) (613,1043) (481,1174) (346,1043)};
\addplot[forget plot, black, line width=0.25mm] coordinates {(637,1043) (661.6,1043) (648.5,1055) (637,1043)};
\addplot[forget plot, black, line width=0.25mm] coordinates {(686,1043) (710.4,1043) (698,1055) (686,1043)};
\addplot[forget plot, black, line width=0.25mm] coordinates {(805,1043) (1143,1043) (974,1211) (805,1043)};
\addplot[forget plot, black, line width=0.25mm] coordinates {(1191.5,1043) (3799,1043) (2494,2344) (1191.5,1043)};

% key
\addplot[forget plot, line width=3.68mm, point meta=\thisrow{k}, quiver={u=0, v=90, colored=mapped color}]
  table[x expr={2662+36.27*(\thisrow{k}+.5)}, y=y] {\keysteps};
\addplot[forget plot, black, line width=0.25mm] coordinates {(2662,2691) (3859,2691) (3859,2781) (2662,2781) (2662,2691)};

\node[anchor=base west, font=\fontsize{12.4}{14}\selectfont] at (axis cs:219,562) {Start:18.472};
\node[anchor=base, font=\fontsize{12.4}{14}\selectfont] at (axis cs:2073,562) {chr17 Region:28.10 (kb)};
\node[anchor=base east, font=\fontsize{12.4}{14}\selectfont] at (axis cs:3972,562) {End:18.500 (Mb)};
\node[anchor=base, font=\fontsize{24.5}{28}\selectfont] at (axis cs:3242,2605) {D\textquotesingle{} Color Key};
\node[anchor=base west, font=\fontsize{25}{28}\selectfont] at (axis cs:2592,2865) {0.0};
\node[anchor=base east, font=\fontsize{25}{28}\selectfont] at (axis cs:3902,2865) {1.0};
\end{axis}
\end{tikzpicture}
\end{document}
